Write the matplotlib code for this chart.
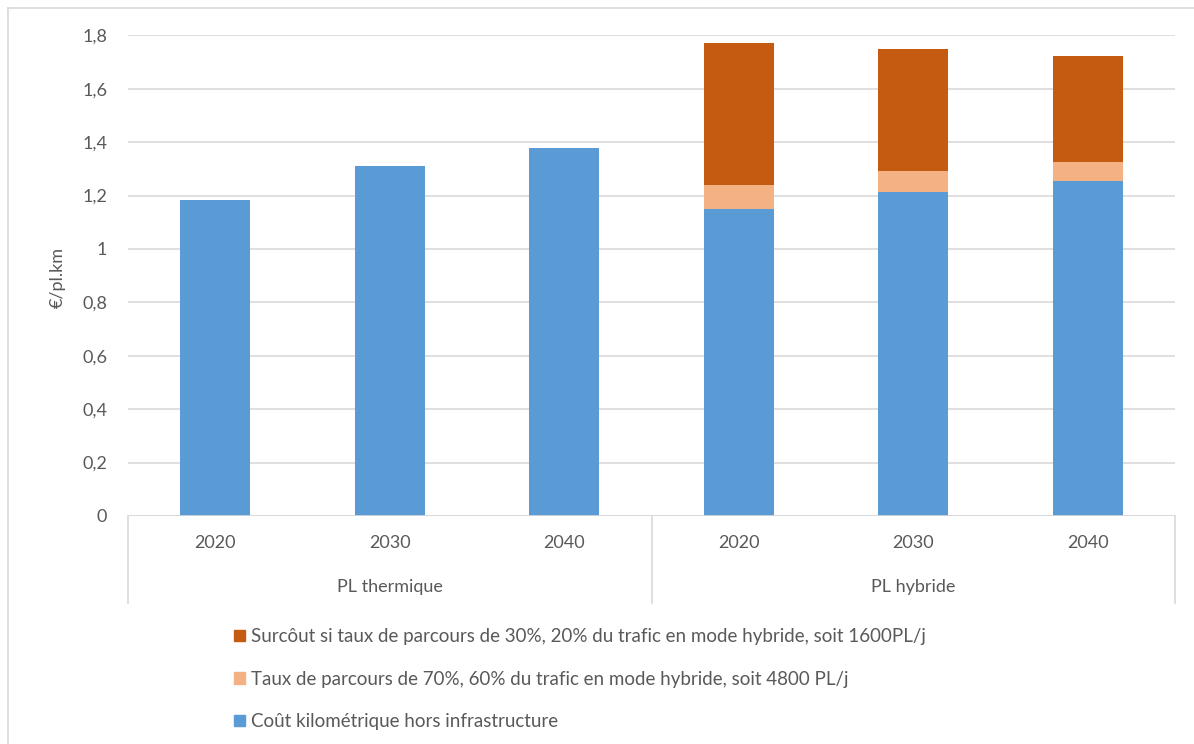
import matplotlib.pyplot as plt
from matplotlib.lines import Line2D
from matplotlib.patches import Patch
import numpy as np

# coûts en €/pl.km
annees = ['2020', '2030', '2040', '2020', '2030', '2040']
groupes = ['PL thermique', 'PL hybride']
cout_km = [1.185, 1.312, 1.379, 1.151, 1.214, 1.256]
taux_70 = [0, 0, 0, 0.090, 0.077, 0.070]
surcout_30 = [0, 0, 0, 0.530, 0.459, 0.396]

lab_cout = 'Coût kilométrique hors infrastructure'
lab_70 = 'Taux de parcours de 70%, 60% du trafic en mode hybride, soit 4800 PL/j'
lab_30 = 'Surcôut si taux de parcours de 30%, 20% du trafic en mode hybride, soit 1600PL/j'

bleu = '#5b9bd5'
peche = '#f4b183'
orange = '#c55a11'
gris_txt = '#595959'
gris_ligne = '#d9d9d9'

plt.rcParams['font.family'] = ['Lato', 'DejaVu Sans']
plt.rcParams['font.size'] = 13

W, H = 1194, 744
fig = plt.figure(figsize=(W / 100, H / 100), dpi=100)
ax = fig.add_axes([128 / W, 1 - 516 / H, (1175 - 128) / W, (516 - 35.3) / H])

x = np.arange(len(annees))
larg = 0.4
b0 = np.array(cout_km)
b1 = b0 + np.array(taux_70)
ax.bar(x, cout_km, larg, color=bleu, zorder=3)
ax.bar(x[3:], taux_70[3:], larg, bottom=b0[3:], color=peche, zorder=3)
ax.bar(x[3:], surcout_30[3:], larg, bottom=b1[3:], color=orange, zorder=3)

ax.set_xlim(-0.5, 5.5)
ax.set_ylim(0, 1.8)
ax.set_yticks(np.arange(0, 1.81, 0.2))
ax.set_yticklabels(['0'] + [f'{v:.1f}'.replace('.', ',') if v != 1 else '1'
                            for v in np.arange(0.2, 1.81, 0.2)])
ax.yaxis.grid(True, color=gris_ligne, linewidth=1.2, zorder=0)
ax.tick_params(axis='y', length=0, pad=15, colors=gris_txt, labelsize=13)
for s in ax.spines.values():
    s.set_visible(False)
ax.axhline(0, color=gris_ligne, linewidth=1.2, zorder=4)

ax.set_xticks(x)
ax.set_xticklabels(annees)
ax.tick_params(axis='x', length=0, pad=14, colors=gris_txt, labelsize=13)

# axe des catégories à deux niveaux
haut = (516 - 35.3)
bas = -87 / haut
trans = ax.get_xaxis_transform()
for xv in [-0.5, 2.5, 5.5]:
    ax.add_line(Line2D([xv, xv], [0, bas], transform=trans, color=gris_ligne,
                       linewidth=1.2, clip_on=False))
for i, g in enumerate(groupes):
    ax.text(1 + 3 * i, -71 / haut, g, transform=trans, ha='center', va='center',
            color=gris_txt, fontsize=13)

ax.set_ylabel('€/pl.km', color=gris_txt, fontsize=13)
ax.yaxis.set_label_coords((66 - 128) / (1175 - 128), 0.5 + (275.5 - 277) / haut)

handles = [Patch(color=orange, label=lab_30), Patch(color=peche, label=lab_70),
           Patch(color=bleu, label=lab_cout)]
leg = fig.legend(handles=handles, loc='upper left', bbox_to_anchor=(225 / W, 1 - 619 / H),
                 frameon=False, fontsize=13.5, handlelength=0.55, handleheight=0.55,
                 handletextpad=0.35, labelspacing=1.35, borderpad=0)
for t in leg.get_texts():
    t.set_color(gris_txt)

# cadre extérieur
fig.add_artist(Line2D([8 / W, 8 / W], [0, 1 - 8 / H], color=gris_ligne, linewidth=1.2))
fig.add_artist(Line2D([8 / W, 1], [1 - 8 / H, 1 - 8 / H], color=gris_ligne, linewidth=1.2))

fig.savefig('out.png', dpi=100, facecolor='white')
